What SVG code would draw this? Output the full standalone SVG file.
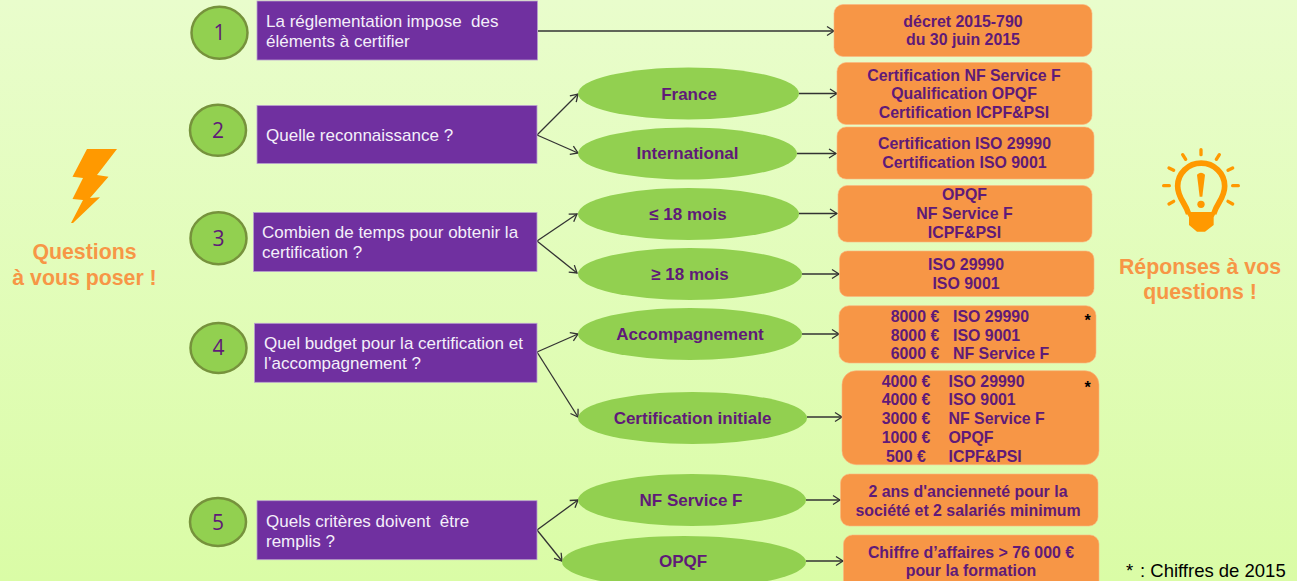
<svg xmlns="http://www.w3.org/2000/svg" width="1297" height="581" viewBox="0 0 1297 581">
<style>
text{font-family:"Liberation Sans",Arial,sans-serif}
.q{fill:#7030a0;stroke:#b9a0cf;stroke-width:.8}
.qt{fill:#f4effa;font-size:17px;white-space:pre}
.c{fill:#92d050;stroke:#76923c;stroke-width:2.5}
.n{fill:#5f1a78;font-family:"Open Sans",sans-serif;font-size:21px;text-anchor:middle}
.e{fill:#92d050}
.et{fill:#5f1a78;font-size:17px;font-weight:bold;text-anchor:middle}
.o{fill:#f79646;stroke:#fbb57f;stroke-width:.6}
.ot{fill:#5f1a78;font-size:15.9px;font-weight:bold}
.m{text-anchor:middle}
.t{fill:#f79646;font-size:21.300px;font-weight:bold;text-anchor:middle}
.l{stroke:#333;stroke-width:1.3;fill:none;marker-end:url(#a)}
.s{fill:#000;font-weight:bold;font-size:16px;text-anchor:middle}
.r{stroke:#f90;stroke-width:10;stroke-linecap:round;fill:none}
.f{fill:#000;font-size:18.500px;white-space:pre}
</style>
<defs>
<linearGradient id="bg" x1="0" y1="0" x2="0" y2="1"><stop offset="0" stop-color="#e9fdcc"/><stop offset="1" stop-color="#dafca6"/></linearGradient>
<marker id="a" markerUnits="userSpaceOnUse" markerWidth="12" markerHeight="12" refX="10" refY="6" orient="auto"><path d="M3 1.500 10 6 3 10.500" fill="none" stroke="#333" stroke-width="1.3"/></marker>
</defs>
<rect width="1297" height="581" fill="url(#bg)"/>

<g id="questions-title">
<path d="M87 149H117L97 175 108.500 176.700 90 198 100 197.300 73 223H71L83 200 72.500 199 83 178 72.500 176.700Z" fill="#f90"/>
<text class="t" x="84.500" y="259">Questions</text>
<text class="t" x="84.500" y="285">à vous poser !</text>
</g>
<g id="answers-title">
<g transform="translate(1090 130) scale(.33333)">
<path class="r" d="M333 59V74M278 74 287 88M388 74 379 88M237 114 251 121M428 114 414 121M221 167H238M428 167H445M237 222 251 214M428 222 414 214"/>
<path d="M296 252C285 215 263 205 263 168A70 68 0 0 1 404 168C404 205 382 215 371 252" fill="none" stroke="#f90" stroke-width="17"/>
<path d="M288 246H379L371 262V285L345 305H321L297 285V262Z" fill="#f90"/>
<path d="M321 134Q333 122 345 134L337 200H329Z" fill="#f90"/>
<circle cx="333" cy="223" r="11" fill="#f90"/>
</g>
<text class="t" x="1200" y="273.500">Réponses à vos</text>
<text class="t" x="1200" y="298.500">questions !</text>
</g>

<g id="connectors">
<path class="l" d="M538 31H834"/>
<path class="l" d="M537 135 578 94"/><path class="l" d="M537 135 578 153"/>
<path class="l" d="M799 93.500H837"/><path class="l" d="M797 153.500H836"/>
<path class="l" d="M537 241 577 214"/><path class="l" d="M537 241 577 273"/>
<path class="l" d="M799 213.500H837"/><path class="l" d="M802 274H839"/>
<path class="l" d="M537 352 578 334"/><path class="l" d="M537 352 578 417"/>
<path class="l" d="M802 334H839"/><path class="l" d="M807 417H842"/>
<path class="l" d="M537 530 578 500"/><path class="l" d="M537 530 562 561"/>
<path class="l" d="M806 500H840"/><path class="l" d="M806 561H843"/>
</g>

<g id="q1"><ellipse class="c" cx="219.500" cy="32.700" rx="28" ry="26"/><text class="n" x="219.500" y="40">1</text>
<rect class="q" x="257" y="1" width="280.500" height="59"/><text class="qt" x="266" y="27">La réglementation impose  des</text><text class="qt" x="266" y="47">éléments à certifier</text></g>
<g id="q2"><ellipse class="c" cx="218" cy="130.300" rx="28" ry="25.500"/><text class="n" x="218" y="138">2</text>
<rect class="q" x="257" y="105.500" width="280" height="58"/><text class="qt" x="266" y="141">Quelle reconnaissance ?</text></g>
<g id="q3"><ellipse class="c" cx="218.500" cy="238.300" rx="28" ry="26"/><text class="n" x="218.500" y="246">3</text>
<rect class="q" x="253.500" y="212.500" width="283.500" height="59"/><text class="qt" x="262" y="238">Combien de temps pour obtenir la</text><text class="qt" x="262" y="258">certification ?</text></g>
<g id="q4"><ellipse class="c" cx="218.500" cy="348" rx="28" ry="25"/><text class="n" x="218.500" y="355">4</text>
<rect class="q" x="254.500" y="323.300" width="282.500" height="59"/><text class="qt" x="264" y="349">Quel budget pour la certification et</text><text class="qt" x="264" y="369">l’accompagnement ?</text></g>
<g id="q5"><ellipse class="c" cx="218" cy="522" rx="28" ry="24"/><text class="n" x="218" y="530">5</text>
<rect class="q" x="257" y="500.700" width="280" height="59"/><text class="qt" x="266" y="527">Quels critères doivent  être</text><text class="qt" x="266" y="547">remplis ?</text></g>

<g id="n-france"><ellipse class="e" cx="688.500" cy="93.500" rx="110.500" ry="26"/><text class="et" x="689" y="99.500">France</text></g>
<g id="n-international"><ellipse class="e" cx="687.500" cy="153.500" rx="109.500" ry="26"/><text class="et" x="687.500" y="159">International</text></g>
<g id="n-moins"><ellipse class="e" cx="688.500" cy="214" rx="110.500" ry="26"/><text class="et" x="688" y="220">≤ 18 mois</text></g>
<g id="n-plus"><ellipse class="e" cx="690" cy="274" rx="112" ry="26"/><text class="et" x="690" y="279.500">≥ 18 mois</text></g>
<g id="n-accompagnement"><ellipse class="e" cx="690" cy="334" rx="112" ry="26"/><text class="et" x="690" y="340">Accompagnement</text></g>
<g id="n-certification"><ellipse class="e" cx="692.500" cy="418" rx="114.500" ry="26"/><text class="et" x="692.500" y="424">Certification initiale</text></g>
<g id="n-nf"><ellipse class="e" cx="692" cy="500" rx="114" ry="26"/><text class="et" x="691" y="505.700">NF Service F</text></g>
<g id="n-opqf"><ellipse class="e" cx="684" cy="562" rx="122" ry="26"/><text class="et" x="683" y="566.700">OPQF</text></g>

<g id="a1"><rect class="o" x="834" y="4.500" width="258" height="52" rx="9"/><text class="ot m" x="963" y="26.700">décret 2015-790</text><text class="ot m" x="963" y="45.300">du 30 juin 2015</text></g>
<g id="a2"><rect class="o" x="837" y="62.500" width="255" height="62" rx="9"/><text class="ot m" x="964" y="80.700">Certification NF Service F</text><text class="ot m" x="964" y="99">Qualification OPQF</text><text class="ot m" x="964" y="118">Certification ICPF&amp;PSI</text></g>
<g id="a3"><rect class="o" x="837" y="127" width="257" height="52" rx="9"/><text class="ot m" x="964.500" y="149">Certification ISO 29990</text><text class="ot m" x="964.500" y="168">Certification ISO 9001</text></g>
<g id="a4"><rect class="o" x="838" y="185.500" width="254" height="56.500" rx="9"/><text class="ot m" x="964.500" y="200">OPQF</text><text class="ot m" x="964.500" y="219">NF Service F</text><text class="ot m" x="964.500" y="237.500">ICPF&amp;PSI</text></g>
<g id="a5"><rect class="o" x="839.500" y="251" width="254.500" height="45.500" rx="8"/><text class="ot m" x="966" y="270">ISO 29990</text><text class="ot m" x="966" y="289">ISO 9001</text></g>
<g id="a6"><rect class="o" x="839" y="305.700" width="257" height="57.300" rx="10"/>
<text class="ot" x="890.700" y="322">8000 €</text><text class="ot" x="953" y="322">ISO 29990</text>
<text class="ot" x="890.700" y="340.500">8000 €</text><text class="ot" x="953" y="340.500">ISO 9001</text>
<text class="ot" x="890.700" y="359">6000 €</text><text class="ot" x="953" y="359">NF Service F</text>
<text class="s" x="1087.500" y="326">*</text></g>
<g id="a7"><rect class="o" x="842" y="370.700" width="257" height="94" rx="14"/>
<text class="ot" x="881.700" y="386.700">4000 €</text><text class="ot" x="948.500" y="386.700">ISO 29990</text>
<text class="ot" x="881.700" y="405">4000 €</text><text class="ot" x="948.500" y="405">ISO 9001</text>
<text class="ot" x="881.700" y="424">3000 €</text><text class="ot" x="948.500" y="424">NF Service F</text>
<text class="ot" x="881.700" y="442.500">1000 €</text><text class="ot" x="948.500" y="442.500">OPQF</text>
<text class="ot" x="886" y="461.500">500 €</text><text class="ot" x="948.500" y="461.500">ICPF&amp;PSI</text>
<text class="s" x="1087.500" y="393">*</text></g>
<g id="a8"><rect class="o" x="840.500" y="474" width="257.500" height="52" rx="9"/><text class="ot m" x="968" y="497.300">2 ans d'ancienneté pour la</text><text class="ot m" x="968" y="516">société et 2 salariés minimum</text></g>
<g id="a9"><rect class="o" x="843.500" y="535" width="255.500" height="60" rx="9"/><text class="ot m" x="971" y="557.700">Chiffre d’affaires &gt; 76 000 €</text><text class="ot m" x="971" y="576">pour la formation</text></g>

<g id="footnote"><text class="f" x="1126" y="576.500">*</text><text class="f" x="1140" y="576.500">: Chiffres de 2015</text></g>
</svg>
